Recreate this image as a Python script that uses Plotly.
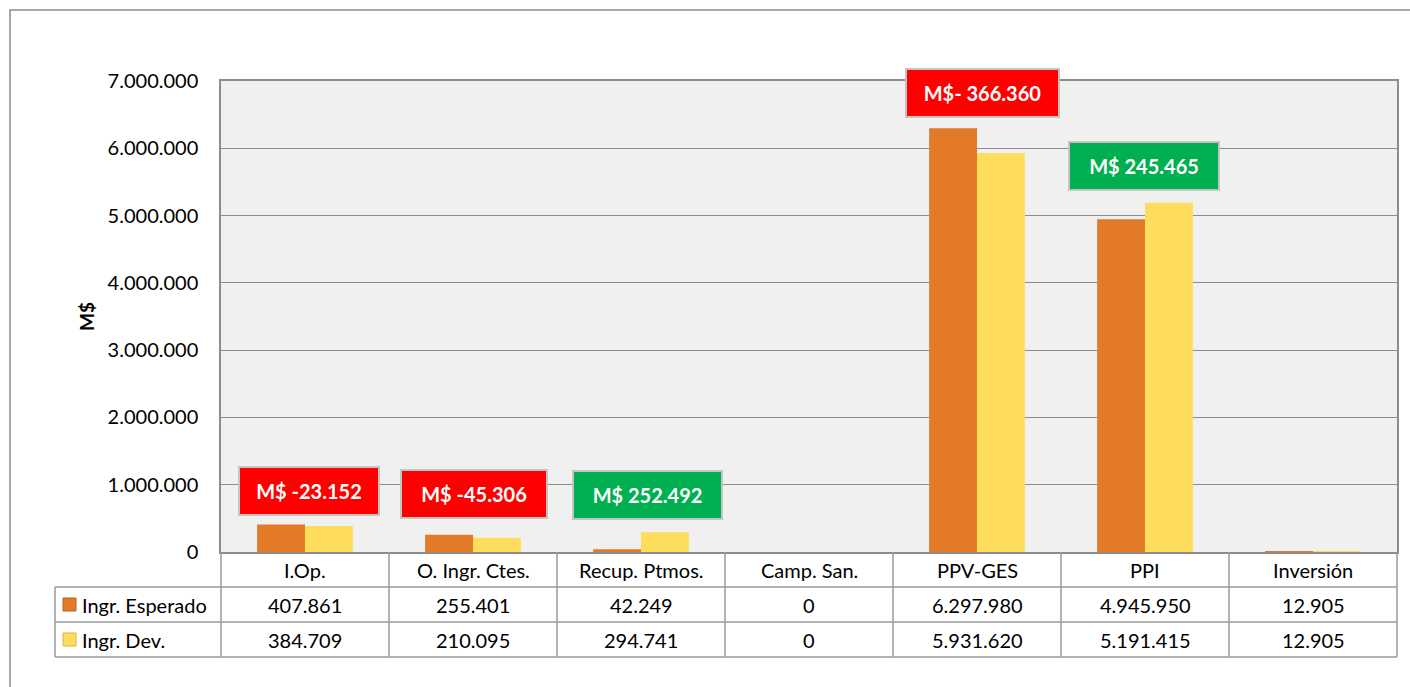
import plotly.graph_objects as go

categories = ["I.Op.", "O. Ingr. Ctes.", "Recup. Ptmos.", "Camp. San.", "PPV-GES", "PPI", "Inversión"]
series_names = ["Ingr. Esperado", "Ingr. Dev."]
ingr_esperado = [407861, 255401, 42249, 0, 6297980, 4945950, 12905]
ingr_dev = [384709, 210095, 294741, 0, 5931620, 5191415, 12905]

# difference call-outs (category, label text, anchor value in M$)
callout_cats = ["I.Op.", "O. Ingr. Ctes.", "Recup. Ptmos.", "PPV-GES", "PPI"]
callout_text = ["M$ -23.152", "M$ -45.306", "M$ 252.492", "M$- 366.360", "M$ 245.465"]
callout_y = [906000, 855000, 847000, 6829000, 5736000]
callout_shift = [4, 1, 6, 5, -1]
callout_w = [142, 148, 151, 155, 152]
callout_colors = ["#FF0000", "#FF0000", "#00B050", "#FF0000", "#00B050"]

y_ticks = [0, 1000000, 2000000, 3000000, 4000000, 5000000, 6000000, 7000000]

W, H = 1410, 687
L, R, T, B = 221, 1397, 81, 552
FONT = "Lato"
ORANGE, ORANGE_LINE = "#E27A28", "#B8621F"
YELLOW, YELLOW_LINE = "#FFDD5C", "#D9B53C"
GRID = "#8C8C8C"
TLINE = "#9A9A9A"


def fmt(v):
    return f"{v:,}".replace(",", ".")


def px(xp):
    return (xp - L) / (R - L)


def py(yp):
    return (B - yp) / (B - T)


fig = go.Figure()
fig.add_trace(go.Bar(x=categories, y=ingr_esperado, name=series_names[0],
                     marker=dict(color=ORANGE, line=dict(width=0))))
fig.add_trace(go.Bar(x=categories, y=ingr_dev, name=series_names[1],
                     marker=dict(color=YELLOW, line=dict(width=0))))

shapes = []
annotations = []

# outer chart border
shapes.append(dict(type="rect", xref="paper", yref="paper", x0=px(10), x1=px(1425),
                   y0=py(10), y1=py(700), line=dict(color="#8A8A8A", width=1.5)))

# data table lines
for yy in [587, 622, 657]:
    shapes.append(dict(type="line", xref="paper", yref="paper", x0=px(55), x1=1,
                       y0=py(yy), y1=py(yy), line=dict(color=TLINE, width=1.5)))
shapes.append(dict(type="line", xref="paper", yref="paper", x0=px(55), x1=px(55),
                   y0=py(587), y1=py(657), line=dict(color=TLINE, width=1.5)))
shapes.append(dict(type="line", xref="paper", yref="paper", x0=0, x1=0,
                   y0=0, y1=py(657), line=dict(color=TLINE, width=1.5)))
shapes.append(dict(type="line", xref="paper", yref="paper", x0=1, x1=1,
                   y0=0, y1=py(657), line=dict(color=TLINE, width=1.5)))
for k in range(1, len(categories)):
    shapes.append(dict(type="line", xref="x", yref="paper", x0=k - 0.5, x1=k - 0.5,
                       y0=0, y1=py(657), line=dict(color=TLINE, width=1.5)))

TFONT = dict(family=FONT, size=20, color="#000")
# header row (category labels)
for c in categories:
    annotations.append(dict(x=c, xref="x", y=py(569.5), yref="paper", text=c,
                            xanchor="center", yanchor="middle", showarrow=False, font=TFONT))
# value rows
for vals, yc in [(ingr_esperado, 604.5), (ingr_dev, 639.5)]:
    for c, v in zip(categories, vals):
        annotations.append(dict(x=c, xref="x", y=py(yc), yref="paper", text=fmt(v),
                                xanchor="center", yanchor="middle", showarrow=False, font=TFONT))
# legend keys in the table
for name, yc, col, lcol in [(series_names[0], 604.5, ORANGE, ORANGE_LINE),
                            (series_names[1], 639.5, YELLOW, YELLOW_LINE)]:
    shapes.append(dict(type="rect", xref="paper", yref="paper", x0=px(63), x1=px(76),
                       y0=py(yc + 6.5), y1=py(yc - 6.5), fillcolor=col,
                       line=dict(color=lcol, width=1)))
    annotations.append(dict(x=px(80), xref="paper", y=py(yc), yref="paper", text=name,
                            xanchor="left", yanchor="middle", showarrow=False, font=TFONT))

# call-out boxes
for c, t, yv, sh, w, col in zip(callout_cats, callout_text, callout_y, callout_shift,
                                callout_w, callout_colors):
    annotations.append(dict(x=c, xref="x", y=yv, yref="y", text="<b>" + t + "</b>",
                            xshift=sh, showarrow=False, width=w - 6, height=44,
                            bgcolor=col, bordercolor="#C4C4C4", borderwidth=2, borderpad=1,
                            font=dict(family=FONT, size=20, color="#FFFFFF")))

fig.update_layout(
    width=W, height=H,
    margin=dict(l=L, r=W - R, t=T, b=H - B, pad=0),
    paper_bgcolor="#FFFFFF", plot_bgcolor="#F0F0F0",
    separators=",.",
    barmode="group", bargap=0.43, bargroupgap=0,
    showlegend=False,
    shapes=shapes, annotations=annotations,
    font=dict(family=FONT, size=20, color="#000"),
)
fig.update_xaxes(showticklabels=False, ticks="", showgrid=False, showline=True,
                 linecolor=GRID, linewidth=1.5, mirror=True, range=[-0.5, 6.5])
fig.update_yaxes(range=[0, 7000000], tickvals=y_ticks, tickformat=",d",
                 showgrid=True, gridcolor=GRID, gridwidth=1, zeroline=False,
                 showline=True, linecolor=GRID, linewidth=1.5, mirror=True,
                 ticks="", ticklabelstandoff=17,
                 tickfont=dict(family=FONT, size=20, color="#000"),
                 title=dict(text="<b>M$</b>", standoff=8,
                            font=dict(family=FONT, size=19, color="#000")))

fig.write_html("out.html", config={"displayModeBar": False},
               post_script="document.body.style.margin='0';")
